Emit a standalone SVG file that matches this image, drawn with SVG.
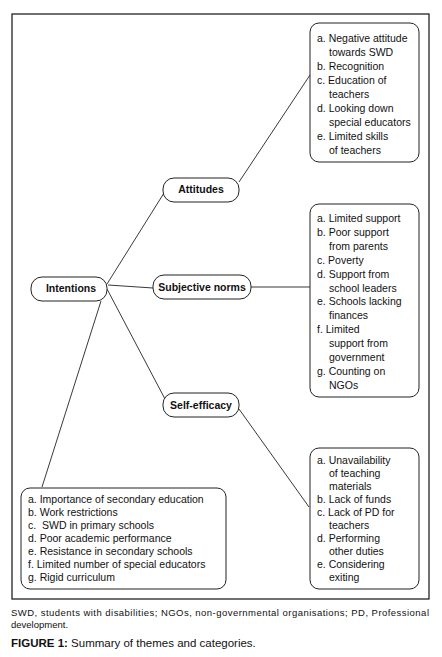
<svg xmlns="http://www.w3.org/2000/svg" width="442" height="657" viewBox="0 0 442 657">
<style>
.box{fill:#fff;stroke:#222;stroke-width:1}
.lbl{font-family:"Liberation Sans",Arial,sans-serif;font-size:10.5px;font-weight:bold;fill:#111;text-anchor:middle}
.item{font-family:"Liberation Sans",Arial,sans-serif;font-size:10.5px;fill:#111}
.conn line{stroke:#222;stroke-width:0.9}
.cap{font-family:"Liberation Sans",Arial,sans-serif;font-size:9.5px;fill:#111}
</style>
<rect x="0" y="0" width="442" height="657" fill="#fff"/>
<rect x="12" y="14" width="417" height="585" fill="none" stroke="#111" stroke-width="1.2"/>
<g id="connectors" class="conn">
<line x1="107" y1="284" x2="164" y2="193"/>
<line x1="108" y1="285" x2="153" y2="288"/>
<line x1="107" y1="289" x2="165" y2="399"/>
<line x1="101" y1="301" x2="42" y2="487"/>
<line x1="239" y1="182" x2="310" y2="75"/>
<line x1="251" y1="287" x2="310" y2="287"/>
<line x1="239" y1="409" x2="309" y2="507"/>
</g>
<g id="intentions">
<rect class="box" x="31" y="277" width="76" height="24" rx="11"/>
<text class="lbl" x="71" y="292">Intentions</text>
</g>
<g id="attitudes">
<rect class="box" x="163" y="178" width="76" height="24" rx="11"/>
<text class="lbl" x="201" y="193">Attitudes</text>
</g>
<g id="subjective-norms">
<rect class="box" x="153" y="275" width="98" height="24" rx="11"/>
<text class="lbl" x="202" y="291">Subjective norms</text>
</g>
<g id="self-efficacy">
<rect class="box" x="163" y="393" width="76" height="24" rx="11"/>
<text class="lbl" x="201" y="409">Self-efficacy</text>
</g>
<g id="attitudes-categories">
<rect class="box" x="310" y="23" width="109" height="139" rx="9"/>
<text class="item" x="317" y="42">a. Negative attitude</text>
<text class="item" x="329" y="56">towards SWD</text>
<text class="item" x="317" y="70">b. Recognition</text>
<text class="item" x="317" y="84">c. Education of</text>
<text class="item" x="329" y="98">teachers</text>
<text class="item" x="317" y="112">d. Looking down</text>
<text class="item" x="329" y="126">special educators</text>
<text class="item" x="317" y="140">e. Limited skills</text>
<text class="item" x="329" y="154">of teachers</text>
</g>
<g id="norms-categories">
<rect class="box" x="310" y="204" width="109" height="193" rx="9"/>
<text class="item" x="317" y="222">a. Limited support</text>
<text class="item" x="317" y="236">b. Poor support</text>
<text class="item" x="329" y="250">from parents</text>
<text class="item" x="317" y="264">c. Poverty</text>
<text class="item" x="317" y="278">d. Support from</text>
<text class="item" x="329" y="292">school leaders</text>
<text class="item" x="317" y="305">e. Schools lacking</text>
<text class="item" x="329" y="319">finances</text>
<text class="item" x="317" y="333">f. Limited</text>
<text class="item" x="329" y="347">support from</text>
<text class="item" x="329" y="361">government</text>
<text class="item" x="317" y="375">g. Counting on</text>
<text class="item" x="329" y="389">NGOs</text>
</g>
<g id="efficacy-categories">
<rect class="box" x="310" y="448" width="109" height="141" rx="9"/>
<text class="item" x="317" y="464">a. Unavailability</text>
<text class="item" x="329" y="477">of teaching</text>
<text class="item" x="329" y="490">materials</text>
<text class="item" x="317" y="503">b. Lack of funds</text>
<text class="item" x="317" y="516">c. Lack of PD for</text>
<text class="item" x="329" y="529">teachers</text>
<text class="item" x="317" y="542">d. Performing</text>
<text class="item" x="329" y="555">other duties</text>
<text class="item" x="317" y="568">e. Considering</text>
<text class="item" x="329" y="581">exiting</text>
</g>
<g id="intentions-categories">
<rect class="box" x="21" y="488" width="205" height="101" rx="9"/>
<text class="item" x="28" y="503">a. Importance of secondary education</text>
<text class="item" x="28" y="516">b. Work restrictions</text>
<text class="item" x="28" y="529" xml:space="preserve">c.  SWD in primary schools</text>
<text class="item" x="28" y="542">d. Poor academic performance</text>
<text class="item" x="28" y="555">e. Resistance in secondary schools</text>
<text class="item" x="28" y="568">f. Limited number of special educators</text>
<text class="item" x="28" y="581">g. Rigid curriculum</text>
</g>
<text class="cap" x="11" y="616" textLength="418" lengthAdjust="spacing">SWD, students with disabilities; NGOs, non-governmental organisations; PD, Professional</text>
<text class="cap" x="11" y="628">development.</text>
<text class="cap" x="11" y="647" style="font-size:11.5px"><tspan font-weight="bold">FIGURE 1:</tspan> Summary of themes and categories.</text>
</svg>
